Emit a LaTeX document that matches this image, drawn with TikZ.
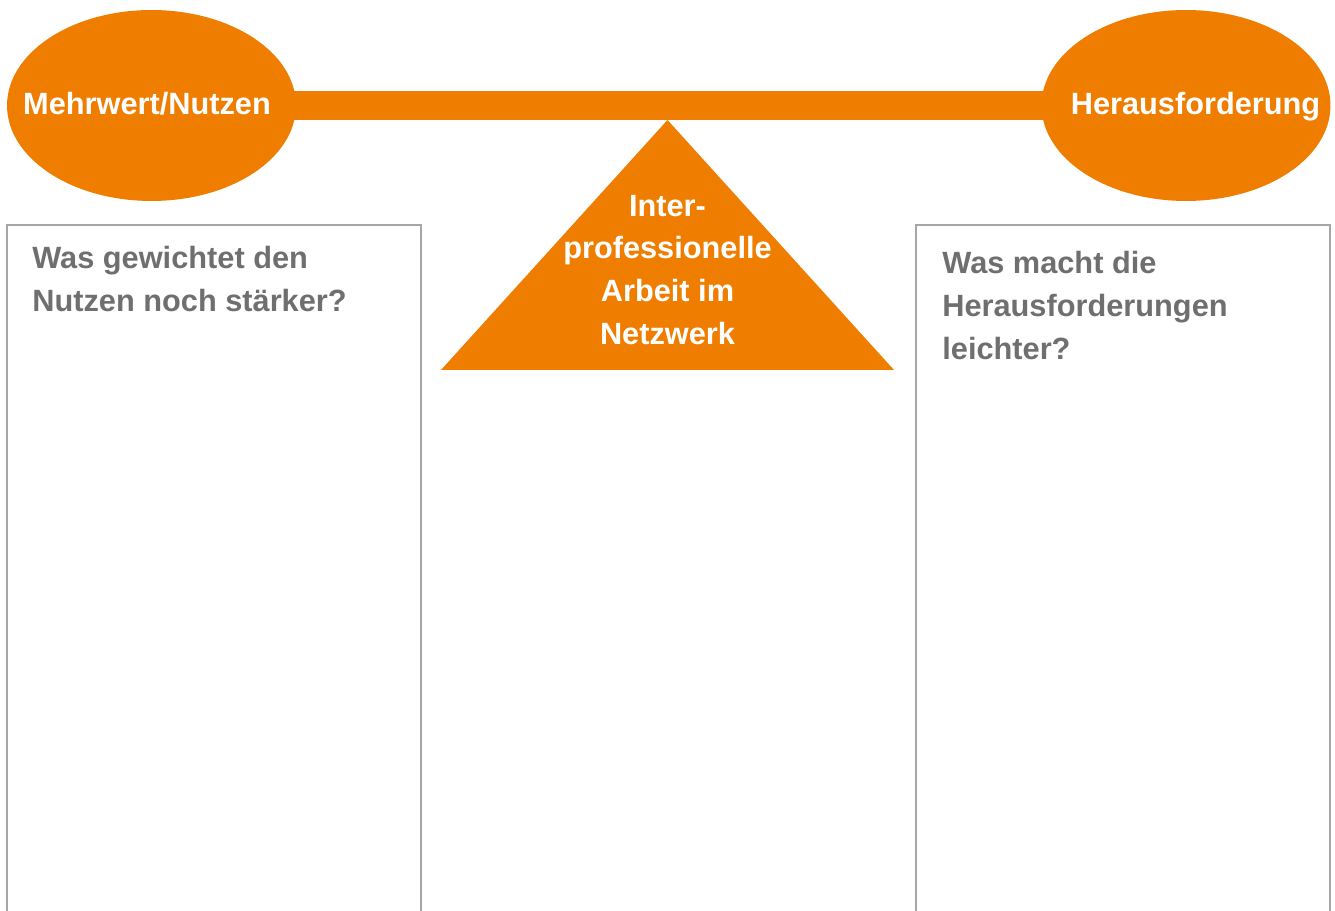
\documentclass[tikz,border=0pt]{standalone}
\usepackage{fontspec}
\setmainfont{Liberation Sans}
\usepackage{tikz}
\usetikzlibrary{shapes.geometric, positioning, backgrounds}
\definecolor{BalanceOrange}{HTML}{EF7D00}
\definecolor{QuestionGray}{HTML}{6F6F6F}
\definecolor{PanelGray}{HTML}{A6A6A6}
\tikzset{
  weightnode/.style={ellipse, draw=none, fill=BalanceOrange, minimum width=5.78cm, minimum height=3.82cm, inner sep=0pt},
  weighttext/.style={font=\fontsize{17.5}{24.4}\selectfont\bfseries, text=white, inner sep=0pt, anchor=base},
  beam/.style={draw=BalanceOrange, line width=0.58cm},
  fulcrum/.style={fill=BalanceOrange},
  fulcrumtext/.style={font=\fontsize{17.5}{24.4}\selectfont\bfseries, text=white, align=center, inner sep=0pt},
  panel/.style={draw=PanelGray, line width=0.7pt},
  questiontext/.style={font=\fontsize{17.5}{24.4}\selectfont\bfseries, text=QuestionGray, align=left, inner sep=0pt, anchor=north west}
}
\begin{document}
\begin{tikzpicture}[x=0.02cm, y=-0.02cm]
  \useasboundingbox (0,0) rectangle (1335,911);

  % Balance arms
  \node[weightnode] (nutzen) at (151.5,105.5) {};
  \node[weightnode] (herausf) at (1186,105.5) {};
  \node[weighttext] (nutzentext) at (147,115) {Mehrwert/Nutzen};
  \node[weighttext] (herausftext) at (1195.5,115) {Herausforderung};

  \begin{scope}[on background layer]
    \draw[beam] (nutzen.center) -- (herausf.center);
  \end{scope}

  % Fulcrum
  \coordinate (apex) at (667.5,120);
  \coordinate (baseleft) at (441,370);
  \coordinate (baseright) at (894,370);
  \fill[fulcrum] (apex) -- (baseleft) -- (baseright) -- cycle;
  \node[fulcrumtext] (netzwerk) at (667.5,270) {Inter-\\professionelle\\Arbeit im\\Netzwerk};

  % Question panels
  \draw[panel] (7,930) |- (421,225) -- (421,930);
  \draw[panel] (916,930) |- (1330,225) -- (1330,930);
  \node[questiontext] (nutzenfrage) at (32,246) {Was gewichtet den\\Nutzen noch stärker?};
  \node[questiontext] (herausffrage) at (942,251) {Was macht die\\Herausforderungen\\leichter?};
\end{tikzpicture}
\end{document}
